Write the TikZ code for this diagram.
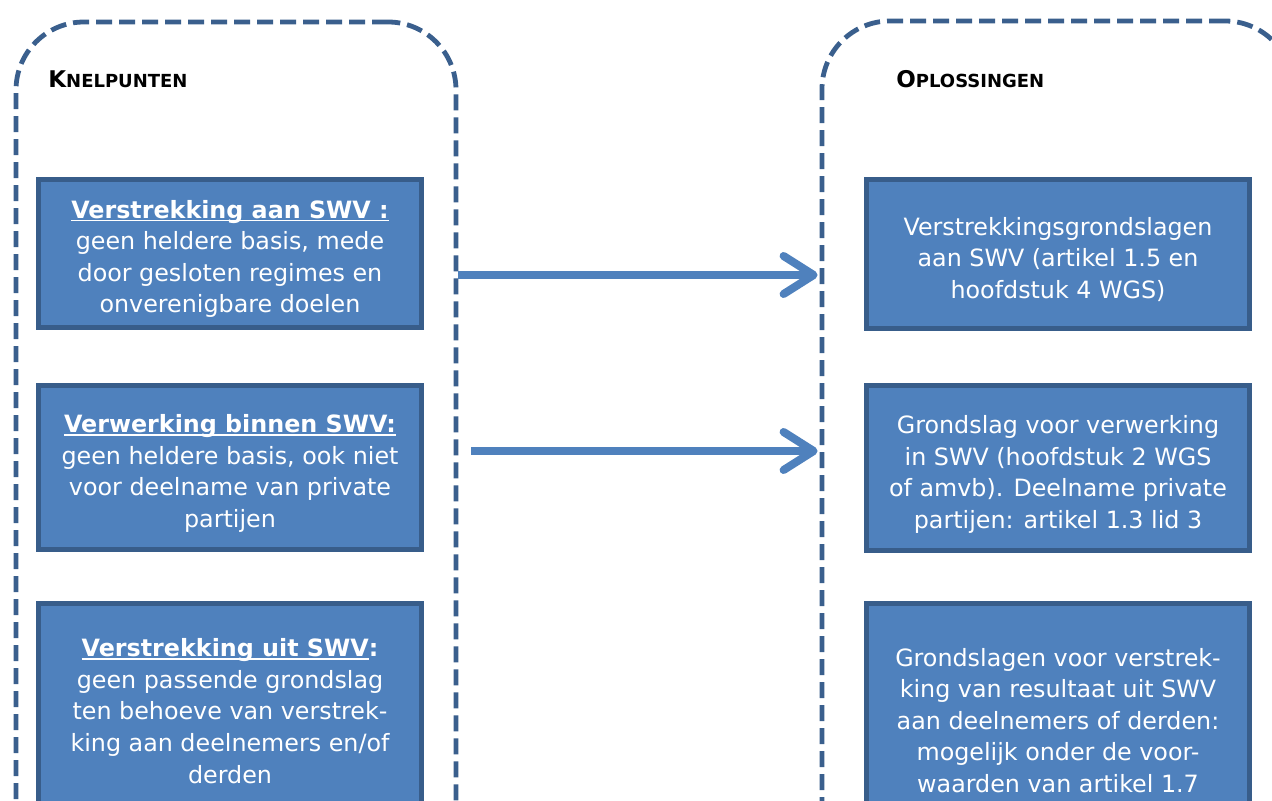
\documentclass[tikz,border=0pt]{standalone}
\usepackage{fontspec}
\setmainfont{DejaVu Sans}
\usetikzlibrary{arrows.meta}
\definecolor{boxfill}{HTML}{4F81BD}
\definecolor{boxline}{HTML}{385D8A}
\definecolor{dashline}{HTML}{3A5F8D}
\newcommand\ulx[1]{\setbox0\hbox{#1}\rlap{\rule[-1.6pt]{\wd0}{0.9pt}}\box0}
\newcommand\smc[2]{{\fontsize{11.5}{12}\selectfont #1}{\fontsize{9}{10}\selectfont #2}}
\newcommand\topgap[1]{\rule{0pt}{#1}}
\tikzset{
  panel/.style={draw=dashline, line width=2.4pt, dash pattern=on 8pt off 3.5pt,
    rounded corners=34pt, inner sep=0pt, minimum height=439pt},
  itembox/.style={draw=boxline, fill=boxfill, line width=2.6pt, text=white,
    align=center, font=\fontsize{11.9}{15.8}\selectfont, minimum width=191.5pt, inner sep=0pt},
  flow/.style={draw=boxfill, line width=4pt, shorten >=1pt,
    -{Straight Barb[length=15pt,width=19pt,round]}},
  head/.style={anchor=base west, inner sep=0pt, font=\bfseries}
}
\begin{document}
\begin{tikzpicture}[x=0.5pt,y=-0.5pt]
\useasboundingbox (0,0) rectangle (1272,801);
\clip (0,0) rectangle (1272,801);
\fill[white] (0,0) rectangle (1272,801);
% panels
\node[panel, minimum width=220pt] (lp) at (236,461) {};
\node[panel, minimum width=235.5pt] (rp) at (1057.5,460) {};
% headers
\node[head] (hl) at (48,88) {\smc{K}{NELPUNTEN}};
\node[head] (hr) at (896,88) {\smc{O}{PLOSSINGEN}};
% left boxes
\node[itembox, minimum height=74pt] (l1) at (230,253.5)
  {\topgap{14.5pt}\ulx{\bfseries Verstrekking aan SWV :}\\geen heldere basis, mede\\door gesloten regimes en\\onverenigbare doelen};
\node[itembox, minimum height=82pt] (l2) at (230,467.5)
  {\topgap{15pt}\ulx{\bfseries Verwerking binnen SWV:}\\geen heldere basis, ook niet\\voor deelname van private\\partijen};
\node[itembox, minimum height=107.5pt] (l3) at (230,711)
  {\ulx{\bfseries Verstrekking uit SWV}\textbf{:}\\geen passende grondslag\\ten behoeve van verstrek-\\king aan deelnemers en/of\\derden};
% right boxes
\node[itembox, minimum height=74.5pt] (r1) at (1058,254)
  {\topgap{14.5pt}Verstrekkingsgrondslagen\\aan SWV (artikel 1.5 en\\hoofdstuk 4 WGS)};
\node[itembox, minimum height=82.5pt] (r2) at (1058,468)
  {\topgap{15.5pt}Grondslag voor verwerking\\in SWV (hoofdstuk 2 WGS\\of amvb). Deelname private\\partijen: artikel 1.3 lid 3};
\node[itembox, minimum height=117pt] (r3) at (1058,720.5)
  {Grondslagen voor verstrek-\\king van resultaat uit SWV\\aan deelnemers of derden:\\mogelijk onder de voor-\\waarden van artikel 1.7};
% arrows
\coordinate (y1) at (0,275);
\coordinate (y2) at (0,451);
\draw[flow] (lp.east |- y1) -- (rp.west |- y1);
\draw[flow] ([xshift=6.5pt]lp.east |- y2) -- (rp.west |- y2);
\end{tikzpicture}
\end{document}
